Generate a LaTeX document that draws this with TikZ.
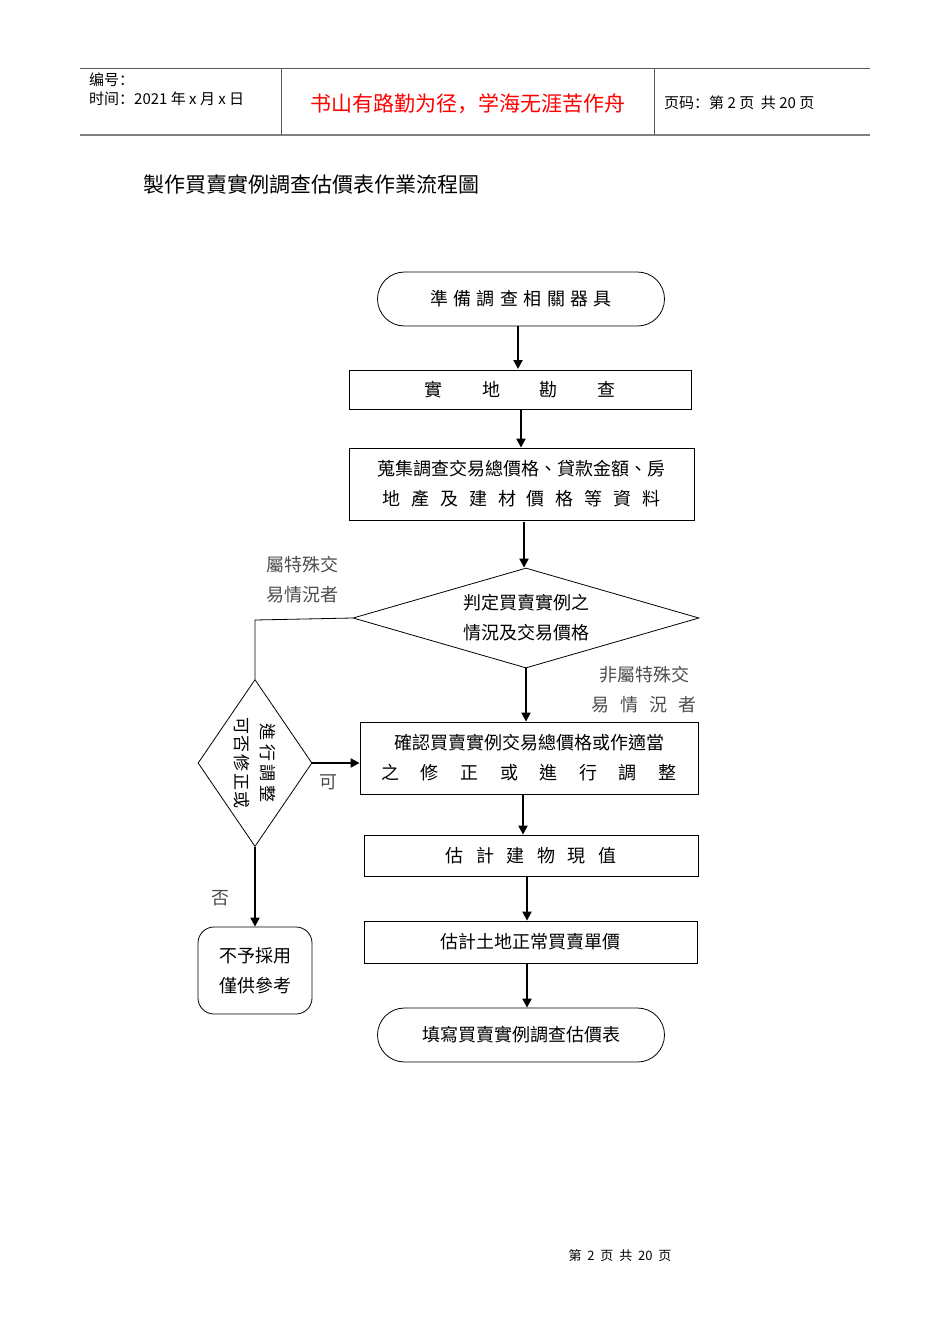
\documentclass[tikz,border=0pt]{standalone}
\usepackage{fontspec}
\setmainfont{Noto Sans CJK TC}
\newfontfamily\cjksc{Noto Sans CJK SC}
\usetikzlibrary{shapes.geometric,arrows.meta}
\begin{document}
\begin{tikzpicture}[x=1pt,y=-1pt,
  txt/.style={font=\fontsize{18}{30}\selectfont, align=center, inner sep=0},
  box/.style={draw, line width=0.8pt, inner sep=0},
  arr/.style={line width=2pt, -{Triangle[length=9pt,width=9pt]}},
  thin/.style={line width=0.8pt}]
\useasboundingbox (0,0) rectangle (950,1344);
% header
\draw[line width=0.8pt,gray!70!black] (80,68) -- (870,68);
\draw[line width=1.5pt,gray] (80,135) -- (870,135);
\draw[thin,gray!70!black] (281,68) -- (281,135) (654,68) -- (654,135);
\node[anchor=west,font=\cjksc\fontsize{15}{19}\selectfont,align=left,inner sep=0] (h1) at (89,89) {编号：\\时间：2021 年 x 月 x 日};
\node[font=\cjksc\fontsize{21}{24}\selectfont,text=red,inner sep=0] (h2) at (468,104) {书山有路勤为径，学海无涯苦作舟};
\node[anchor=west,font=\cjksc\fontsize{15}{18}\selectfont,inner sep=0] (h3) at (664,103) {页码：第 2 页\ \ 共 20 页};
\node[anchor=west,font=\fontsize{21}{24}\selectfont,inner sep=0] (title) at (143,184) {製作買賣實例調查估價表作業流程圖};
% nodes
\node[box, rounded corners=27pt, minimum width=287pt, minimum height=54pt, txt] (n1) at (521,299) {準\hspace{0.3em}備\hspace{0.3em}調\hspace{0.3em}查\hspace{0.3em}相\hspace{0.3em}關\hspace{0.3em}器\hspace{0.3em}具};
\node[box, minimum width=342pt, minimum height=39pt, txt] (n2) at (520,389.5) {實\hspace{2.2em}地\hspace{2.2em}勘\hspace{2.2em}查};
\node[box, minimum width=345pt, minimum height=72pt, txt] (n3) at (521.5,484) {蒐集調查交易總價格、貸款金額、房\\地\hspace{0.6em}產\hspace{0.6em}及\hspace{0.6em}建\hspace{0.6em}材\hspace{0.6em}價\hspace{0.6em}格\hspace{0.6em}等\hspace{0.6em}資\hspace{0.6em}料};
\node[box, diamond, aspect=3.46, minimum width=346pt, minimum height=100pt, txt] (d1) at (526,618) {判定買賣實例之\\情況及交易價格};
\node[box, minimum width=338pt, minimum height=72pt, txt] (n4) at (529,758) {確認買賣實例交易總價格或作適當\\之\hspace{1.2em}修\hspace{1.2em}正\hspace{1.2em}或\hspace{1.2em}進\hspace{1.2em}行\hspace{1.2em}調\hspace{1.2em}整};
\node[box, minimum width=334pt, minimum height=41pt, txt] (n5) at (531,855.5) {估\hspace{0.7em}計\hspace{0.7em}建\hspace{0.7em}物\hspace{0.7em}現\hspace{0.7em}值};
\node[box, minimum width=333pt, minimum height=42pt, txt] (n6) at (530.5,942) {估計土地正常買賣單價};
\node[box, rounded corners=27pt, minimum width=287pt, minimum height=54pt, txt] (n7) at (521,1035) {填寫買賣實例調查估價表};
\node[box, diamond, aspect=0.68, minimum width=114pt, minimum height=167pt] (d2) at (255,763) {};
\node[txt, rotate=-90, font=\fontsize{17}{26}\selectfont] (d2t) at (255,763) {進\hspace{0.2em}行\hspace{0.2em}調\hspace{0.2em}整\\可\hspace{0.1em}否\hspace{0.1em}修\hspace{0.1em}正\hspace{0.1em}或};
\node[box, rounded corners=16pt, minimum width=114pt, minimum height=87pt, txt] (n8) at (255,970.5) {不予採用\\僅供參考};
% labels
\node[txt, text=gray!60!black] (l1) at (302,580) {屬特殊交\\易情況者};
\node[txt, text=gray!60!black] (l2) at (644,690) {非屬特殊交\\易\hspace{0.6em}情\hspace{0.6em}況\hspace{0.6em}者};
\node[txt, text=gray!60!black] (l3) at (328,782) {可};
\node[txt, text=gray!60!black] (l4) at (220,898) {否};
\node[font=\fontsize{13}{15}\selectfont, inner sep=0] (foot) at (620,1256) {第\ \ 2\ \ 页\ \ 共\ \ 20\ \ 页};
% connectors
\draw[arr] (n1.south -| 518,0) -- (518,369);
\draw[arr] (521,409) -- (n3.north -| 521,0);
\draw[arr] (524,522) -- (d1.north -| 524,0);
\draw[arr] (d1.south) -- (n4.north -| d1.south);
\draw[arr] (523,795) -- (n5.north -| 523,0);
\draw[arr] (527,876) -- (n6.north -| 527,0);
\draw[arr] (527,963) -- (n7.north -| 527,0);
\draw[thin] (d1.west) -- (255,620) -- (d2.north);
\draw[arr] (d2.east) -- (n4.west |- d2.east);
\draw[arr] (d2.south) -- (n8.north);
\end{tikzpicture}
\end{document}
